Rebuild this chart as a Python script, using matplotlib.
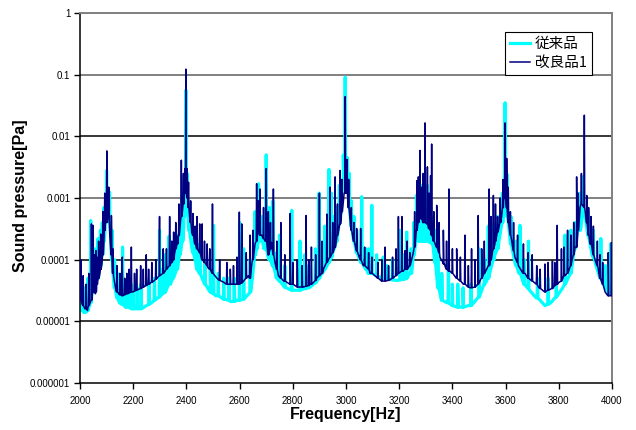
import matplotlib
matplotlib.use('Agg')
import matplotlib.pyplot as plt
import numpy as np

# 従来品 (cyan) - baseline knots
old_f = [2000, 2010, 2022, 2032, 2040, 2050, 2060, 2070, 2080, 2090, 2097, 2108, 2115,
         2122, 2130, 2140, 2155, 2175, 2200, 2225, 2250, 2275, 2300, 2320, 2340, 2355,
         2370, 2380, 2390, 2396, 2404, 2410, 2420, 2435, 2450, 2470, 2490, 2510, 2540,
         2565, 2590, 2615, 2635, 2648, 2658, 2670, 2680, 2690, 2705, 2720, 2735, 2750,
         2775, 2800, 2825, 2850, 2875, 2900, 2920, 2945, 2965, 2980, 2990, 3005, 3012,
         3020, 3030, 3040, 3055, 3070, 3090, 3115, 3140, 3165, 3190, 3220, 3240, 3255,
         3265, 3280, 3300, 3315, 3325, 3335, 3345, 3360, 3380, 3400, 3420, 3440, 3460,
         3480, 3500, 3520, 3540, 3560, 3575, 3588, 3594, 3603, 3608, 3620, 3635, 3650,
         3670, 3690, 3715, 3748, 3770, 3790, 3815, 3835, 3850, 3862, 3875, 3900, 3910,
         3925, 3940, 3955, 3975, 3990, 4000]
old_v = [1.8e-5, 1.5e-5, 1.4e-5, 1.6e-5, 2.5e-5, 3.5e-5, 4.5e-5, 6e-5, 1.0e-4, 2.0e-4,
         5e-4, 5e-4, 2.5e-4, 8e-5, 3.5e-5, 2.4e-5, 1.9e-5, 1.7e-5, 1.6e-5, 1.6e-5,
         1.8e-5, 2.1e-5, 2.5e-5, 3.0e-5, 4.0e-5, 5.5e-5, 9e-5, 1.5e-4, 3.5e-4, 8e-4,
         8e-4, 3.5e-4, 1.6e-4, 9e-5, 6e-5, 4.0e-5, 3.0e-5, 2.6e-5, 2.3e-5, 2.1e-5,
         2.2e-5, 2.3e-5, 2.8e-5, 5e-5, 1.2e-4, 2.0e-4, 2.0e-4, 1.6e-4, 1.2e-4, 9e-5,
         6e-5, 4.5e-5, 3.5e-5, 3.2e-5, 3.2e-5, 3.4e-5, 3.9e-5, 5e-5, 7e-5, 1.1e-4,
         2.0e-4, 5e-4, 2.0e-3, 2.0e-3, 7e-4, 3.5e-4, 2.0e-4, 1.3e-4, 9e-5, 7.5e-5,
         6e-5, 5.5e-5, 5e-5, 4.8e-5, 4.6e-5, 4.8e-5, 6e-5, 1.2e-4, 2.2e-4, 2.0e-4,
         2.0e-4, 1.9e-4, 1.8e-4, 9e-5, 3.5e-5, 2.2e-5, 2.0e-5, 1.8e-5, 1.7e-5, 1.7e-5,
         1.8e-5, 2.0e-5, 2.5e-5, 4e-5, 6e-5, 1.2e-4, 2.0e-4, 4e-4, 1.5e-3, 1.5e-3,
         5e-4, 1.8e-4, 9e-5, 6e-5, 4e-5, 3.2e-5, 2.4e-5, 1.8e-5, 2.0e-5, 2.5e-5,
         3.5e-5, 5e-5, 8e-5, 1.6e-4, 4e-4, 5e-4, 2.5e-4, 1.2e-4, 8e-5, 5e-5, 3.5e-5,
         2.8e-5, 3.0e-5]
# spikes: frequency, foot, tip
old_spk_f = [2005, 2040, 2047, 2068, 2090, 2100, 2111, 2140, 2160, 2185, 2200, 2230,
             2299, 2320, 2335, 2385, 2398, 2410, 2425, 2450, 2502, 2520, 2560, 2600,
             2615, 2658, 2671, 2685, 2700, 2712, 2725, 2750, 2796, 2827, 2845, 2885,
             2899, 2920, 2936, 2945, 2975, 2990, 2997, 3005, 3059, 3075, 3097, 3115,
             3140, 3155, 3203, 3228, 3245, 3265, 3275, 3285, 3298, 3306, 3318, 3345,
             3360, 3385, 3420, 3470, 3500, 3535, 3555, 3598, 3606, 3654, 3686, 3760,
             3823, 3845, 3890, 3958, 3995]
old_spk_lo = [1.5e-5, 2e-5, 3e-5, 5e-5, 2e-4, 5e-4, 4e-4, 2.4e-5, 1.9e-5, 1.7e-5,
              1.6e-5, 1.6e-5, 2.5e-5, 3e-5, 4e-5, 2e-4, 1e-3, 3e-4, 1.3e-4, 6e-5,
              2.8e-5, 2.6e-5, 2.2e-5, 2.2e-5, 2.3e-5, 1.2e-4, 2e-4, 2e-4, 1.5e-4, 1e-4,
              8e-5, 4.5e-5, 3.2e-5, 3.2e-5, 3.4e-5, 4.2e-5, 5e-5, 7e-5, 9e-5, 1.1e-4,
              4e-4, 2e-3, 2e-3, 2e-3, 9e-5, 7e-5, 6e-5, 5.5e-5, 5e-5, 5e-5, 4.7e-5,
              5e-5, 6e-5, 2.2e-4, 2e-4, 2e-4, 2e-4, 2e-4, 1.9e-4, 4e-5, 2.2e-5, 2e-5,
              1.7e-5, 1.8e-5, 2.5e-5, 5e-5, 1e-4, 1.5e-3, 5e-4, 6e-5, 3.4e-5, 1.9e-5,
              4e-5, 6e-5, 5e-4, 5e-5, 2.8e-5]
old_spk_hi = [5e-5, 4.3e-4, 2.5e-4, 2.2e-4, 7e-4, 2.8e-3, 1.25e-3, 6e-5, 1.6e-4, 5e-5,
              3e-5, 4e-5, 3e-4, 1.2e-4, 2.4e-4, 1.2e-3, 0.056, 6e-4, 3e-4, 1.8e-4,
              3.6e-4, 6e-5, 5e-5, 4e-4, 1.5e-4, 6e-4, 1.7e-3, 5e-4, 5e-3, 7e-4, 9e-4,
              2.5e-4, 6.3e-4, 2e-4, 1.2e-4, 1.5e-4, 1.2e-3, 3.5e-4, 2.9e-3, 1.2e-3,
              1.6e-3, 5e-3, 0.091, 4.5e-3, 1.05e-3, 1.5e-4, 7.6e-4, 1.2e-4, 1.1e-4,
              8e-5, 3e-4, 2.8e-4, 1.5e-4, 1.1e-3, 1.5e-3, 1.6e-3, 1.3e-3, 1.6e-3, 7e-4,
              1.6e-4, 6e-5, 9e-5, 4e-5, 4e-5, 1.5e-4, 3.5e-4, 3.8e-4, 0.035, 2.4e-3,
              3.6e-4, 2e-4, 5e-5, 2.5e-4, 3e-4, 2.2e-3, 2.2e-4, 1.8e-4]
# smaller spikes that make the band fuzzy
old_fine_f = [2015, 2030, 2058, 2077, 2084, 2120, 2130, 2150, 2172, 2193, 2215, 2260,
              2280, 2310, 2350, 2365, 2375, 2392, 2403, 2440, 2470, 2490, 2540, 2580,
              2640, 2665, 2693, 2740, 2770, 2860, 2910, 2955, 2965, 3012, 3020, 3030,
              3040, 3085, 3175, 3215, 3255, 3292, 3325, 3335, 3400, 3440, 3520, 3570,
              3588, 3620, 3640, 3670, 3720, 3790, 3860, 3880, 3910, 3930, 3975]
old_fine_lo = [1.4e-5, 1.5e-5, 4e-5, 8e-5, 1.2e-4, 1e-4, 3.5e-5, 2e-5, 1.7e-5, 1.6e-5,
               1.6e-5, 1.9e-5, 2.2e-5, 2.8e-5, 5e-5, 7e-5, 1.2e-4, 5e-4, 8e-4, 7e-5,
               4e-5, 3e-5, 2.3e-5, 2.1e-5, 3e-5, 1.5e-4, 1.5e-4, 5e-5, 3.6e-5, 3.5e-5,
               6e-5, 1.5e-4, 2e-4, 7e-4, 3.5e-4, 2e-4, 1.3e-4, 6e-5, 4.7e-5, 4.8e-5,
               1.2e-4, 2e-4, 1.8e-4, 9e-5, 1.8e-5, 1.7e-5, 4e-5, 1.5e-4, 4e-4, 1.8e-4,
               8e-5, 4e-5, 2.4e-5, 2.5e-5, 1.5e-4, 3e-4, 2.5e-4, 1.1e-4, 3.5e-5]
old_fine_hi = [3.5e-5, 5e-5, 1.5e-4, 3e-4, 4e-4, 3e-4, 1e-4, 5e-5, 4e-5, 4e-5, 3.5e-5,
               4.5e-5, 5e-5, 7e-5, 1.2e-4, 2.5e-4, 4e-4, 2e-3, 2.5e-3, 1.6e-4, 9e-5,
               7e-5, 5e-5, 5e-5, 1e-4, 5e-4, 4e-4, 1.3e-4, 8e-5, 8e-5, 1.8e-4, 5e-4,
               7e-4, 2.5e-3, 9e-4, 5e-4, 3e-4, 1.5e-4, 1e-4, 1.2e-4, 4e-4, 8e-4, 5e-4,
               3e-4, 4e-5, 3.5e-5, 1e-4, 5e-4, 1.2e-3, 5e-4, 2e-4, 1e-4, 5e-5, 6e-5,
               4e-4, 1.2e-3, 6e-4, 3e-4, 8e-5]

# 改良品1 (navy)
new_f = [2000, 2008, 2018, 2028, 2038, 2048, 2058, 2066, 2075, 2083, 2090, 2096, 2106,
         2112, 2118, 2126, 2135, 2148, 2160, 2180, 2200, 2220, 2240, 2260, 2280, 2300,
         2320, 2340, 2355, 2365, 2375, 2385, 2392, 2405, 2412, 2420, 2430, 2445, 2460,
         2480, 2500, 2515, 2540, 2565, 2590, 2615, 2633, 2645, 2658, 2670, 2683, 2696,
         2708, 2720, 2733, 2746, 2765, 2790, 2815, 2840, 2865, 2890, 2915, 2940, 2959,
         2978, 2993, 3003, 3009, 3015, 3028, 3040, 3053, 3065, 3090, 3115, 3140, 3165,
         3190, 3215, 3241, 3253, 3266, 3278, 3291, 3303, 3316, 3328, 3341, 3353, 3366,
         3391, 3416, 3441, 3466, 3485, 3510, 3535, 3560, 3573, 3585, 3593, 3604, 3610,
         3623, 3635, 3648, 3673, 3698, 3723, 3748, 3773, 3798, 3823, 3848, 3861, 3867,
         3880, 3905, 3917, 3936, 3955, 3974, 3986, 4000]
new_v = [2.4e-5, 1.9e-5, 1.6e-5, 1.5e-5, 2.0e-5, 3.0e-5, 2.8e-5, 4.5e-5, 6.0e-5, 9e-5,
         2.0e-4, 5e-4, 6e-4, 2.5e-4, 1.2e-4, 5.5e-5, 3.2e-5, 2.7e-5, 2.6e-5, 2.8e-5,
         3.0e-5, 3.3e-5, 3.6e-5, 4.0e-5, 4.6e-5, 5.5e-5, 6.5e-5, 8.5e-5, 1.2e-4, 1.8e-4,
         3.0e-4, 6.0e-4, 1.2e-3, 1.0e-3, 5e-4, 2.8e-4, 1.9e-4, 1.4e-4, 1.0e-4, 7.5e-5,
         6.0e-5, 5.0e-5, 4.3e-5, 4.0e-5, 4.0e-5, 4.5e-5, 5.5e-5, 8e-5, 1.8e-4, 3.5e-4,
         2.5e-4, 2.0e-4, 1.2e-4, 1.9e-4, 9e-5, 5.5e-5, 4.5e-5, 4.0e-5, 3.6e-5, 3.6e-5,
         4.0e-5, 5.0e-5, 7e-5, 1.1e-4, 1.6e-4, 3.8e-4, 1.2e-3, 1.3e-3, 8e-4, 4.5e-4,
         2.0e-4, 1.4e-4, 1.0e-4, 8e-5, 6e-5, 5.2e-5, 4.5e-5, 4.7e-5, 5.5e-5, 6.5e-5,
         8e-5, 1.3e-4, 3.0e-4, 5e-4, 4e-4, 3.8e-4, 3.0e-4, 2.0e-4, 1.6e-4, 1.1e-4,
         8.5e-5, 6.5e-5, 5.0e-5, 4.0e-5, 3.5e-5, 3.6e-5, 5e-5, 8e-5, 1.8e-4, 3.0e-4,
         5e-4, 1.0e-3, 7e-4, 4.0e-4, 2.0e-4, 1.1e-4, 8e-5, 6e-5, 4.5e-5, 3.6e-5, 3.0e-5,
         3.4e-5, 4.2e-5, 5.5e-5, 9e-5, 1.6e-4, 4e-4, 7e-4, 4e-4, 1.8e-4, 1.0e-4, 5e-5,
         3.0e-5, 2.6e-5, 3e-5]
new_spk_f = [2003, 2012, 2043, 2049, 2060, 2070, 2078, 2101, 2118, 2139, 2159, 2176,
             2193, 2213, 2228, 2249, 2270, 2299, 2313, 2337, 2352, 2366, 2381, 2389,
             2398, 2403, 2425, 2440, 2450, 2459, 2478, 2498, 2552, 2577, 2599, 2608,
             2639, 2664, 2677, 2700, 2708, 2727, 2755, 2790, 2817, 2850, 2870, 2886,
             2900, 2928, 2940, 2959, 2978, 2997, 3004, 3040, 3055, 3097, 3120, 3147,
             3175, 3197, 3210, 3222, 3240, 3266, 3272, 3278, 3297, 3306, 3318, 3322,
             3341, 3366, 3387, 3416, 3447, 3472, 3497, 3520, 3538, 3554, 3570, 3598,
             3604, 3610, 3667, 3700, 3717, 3748, 3776, 3794, 3810, 3833, 3867, 3873,
             3896, 3905, 3921, 3955, 3986, 3998]
new_spk_lo = [2.2e-5, 1.8e-5, 2.2e-5, 3e-5, 3e-5, 5e-5, 7e-5, 4e-4, 1.2e-4, 3e-5,
              2.6e-5, 2.8e-5, 3e-5, 3.2e-5, 3.4e-5, 3.8e-5, 4.3e-5, 5.5e-5, 6e-5,
              8e-5, 1e-4, 1.8e-4, 5e-4, 8e-4, 1.2e-3, 1e-3, 2.5e-4, 1.5e-4, 1.3e-4,
              1.0e-4, 8e-5, 6e-5, 4e-5, 4e-5, 4e-5, 4.2e-5, 5e-5, 2e-4, 2.5e-4, 2e-4,
              1.2e-4, 1.2e-4, 5e-5, 4e-5, 3.6e-5, 3.7e-5, 4e-5, 4.6e-5, 5.5e-5, 9e-5,
              1.1e-4, 1.6e-4, 3.8e-4, 1.2e-3, 1.2e-3, 1.4e-4, 1e-4, 6e-5, 5e-5, 4.5e-5,
              5e-5, 6e-5, 6.5e-5, 7e-5, 8e-5, 3e-4, 4e-4, 5e-4, 4e-4, 3.8e-4, 3e-4,
              2.5e-4, 1.6e-4, 9e-5, 6.5e-5, 5e-5, 4e-5, 3.5e-5, 4e-5, 6e-5, 8e-5,
              1.5e-4, 2.8e-4, 1e-3, 7e-4, 4e-4, 6e-5, 4.5e-5, 4e-5, 3e-5, 3.4e-5, 4e-5,
              4.5e-5, 6e-5, 1.6e-4, 3e-4, 7e-4, 4e-4, 1.8e-4, 5e-5, 2.6e-5, 2.6e-5]
new_spk_hi = [1.0e-4, 5.5e-5, 3.8e-4, 3.6e-4, 1.4e-4, 2.0e-4, 2.6e-4, 5.8e-3, 5.2e-4,
              8e-5, 1.1e-4, 6e-5, 1.6e-4, 7e-5, 8e-5, 1.2e-4, 9e-5, 5.0e-4, 1.5e-4,
              5.0e-4, 2.8e-4, 2.4e-4, 4.1e-3, 2.5e-3, 0.123, 3.0e-3, 5.6e-4, 5e-4,
              3.8e-4, 3.8e-4, 1.8e-4, 8.0e-4, 9e-5, 8e-5, 5.9e-4, 3.8e-4, 2.5e-4,
              1.7e-3, 1.4e-3, 3.0e-3, 6e-4, 1.4e-3, 4e-4, 5.6e-4, 1.0e-4, 5.2e-4,
              1.6e-4, 1.2e-4, 1.2e-3, 5.5e-4, 1.5e-3, 2.2e-3, 2.8e-3, 0.044, 4.2e-3,
              3.2e-4, 3.2e-4, 1.1e-4, 9e-5, 1.6e-4, 1.1e-4, 5.0e-4, 5.0e-4, 1.4e-4,
              1.3e-4, 1.9e-3, 2.2e-3, 5.9e-3, 0.0165, 3.2e-3, 2.3e-3, 7.5e-3, 7.6e-4,
              3e-4, 1.4e-3, 1.5e-4, 2.5e-4, 1.5e-4, 5.2e-4, 2e-4, 1.4e-3, 1.1e-3, 5e-4,
              0.0165, 4.4e-3, 1.5e-3, 1.8e-4, 1.2e-4, 8e-5, 8.5e-5, 9.5e-5, 3.6e-4,
              1.5e-4, 3.0e-4, 2.2e-3, 1.2e-3, 0.022, 1.1e-3, 5e-4, 1.2e-4, 1.3e-4, 1.9e-4]
new_fine_f = [2023, 2033, 2054, 2064, 2086, 2093, 2108, 2124, 2150, 2168, 2185, 2205,
              2238, 2258, 2285, 2325, 2345, 2360, 2372, 2394, 2408, 2416, 2433, 2468,
              2488, 2525, 2565, 2590, 2625, 2650, 2670, 2690, 2716, 2740, 2770, 2800,
              2835, 2860, 2910, 2950, 2968, 2985, 3010, 3020, 3030, 3070, 3085, 3135,
              3160, 3188, 3230, 3258, 3285, 3290, 3312, 3330, 3350, 3378, 3400, 3430,
              3460, 3485, 3510, 3545, 3562, 3580, 3590, 3618, 3630, 3645, 3685, 3730,
              3760, 3785, 3820, 3845, 3856, 3885, 3912, 3930, 3945, 3965]
new_fine_lo = [1.6e-5, 1.8e-5, 3e-5, 4e-5, 1.2e-4, 3e-4, 5e-4, 6e-5, 2.7e-5, 2.7e-5,
               2.9e-5, 3.1e-5, 3.6e-5, 4e-5, 4.8e-5, 7e-5, 9e-5, 1.5e-4, 2.5e-4,
               1.2e-3, 7e-4, 4e-4, 1.8e-4, 9e-5, 7e-5, 4.6e-5, 4e-5, 4e-5, 5e-5, 1e-4,
               3e-4, 2.2e-4, 1.5e-4, 7e-5, 4.5e-5, 4e-5, 3.6e-5, 3.8e-5, 6e-5, 1.3e-4,
               2.5e-4, 6e-4, 7e-4, 3e-4, 2e-4, 8e-5, 7e-5, 4.5e-5, 4.6e-5, 5.5e-5, 7e-5,
               1.6e-4, 4.5e-4, 4e-4, 3.2e-4, 2e-4, 1.3e-4, 7e-5, 6e-5, 4.5e-5, 3.6e-5,
               3.6e-5, 5e-5, 1e-4, 2e-4, 4e-4, 7e-4, 2.5e-4, 1.4e-4, 9e-5, 5e-5, 3.4e-5,
               3.2e-5, 3.8e-5, 5.5e-5, 8e-5, 1.2e-4, 8e-4, 2.5e-4, 1.2e-4, 8e-5, 4e-5]
new_fine_hi = [4e-5, 6e-5, 1.2e-4, 1.1e-4, 6e-4, 1.2e-3, 1.5e-3, 1.5e-4, 6e-5, 5e-5,
               7e-5, 6e-5, 7e-5, 7e-5, 1.0e-4, 1.5e-4, 2e-4, 4e-4, 8e-4, 3e-3, 1.8e-3,
               9e-4, 3.5e-4, 2e-4, 1.5e-4, 1.0e-4, 7e-5, 1.1e-4, 1.3e-4, 3e-4, 9e-4,
               7e-4, 4e-4, 2e-4, 1.2e-4, 9e-5, 8e-5, 1.0e-4, 2e-4, 4e-4, 8e-4, 2e-3,
               2e-3, 7e-4, 4e-4, 1.6e-4, 1.3e-4, 1e-4, 8e-5, 1.5e-4, 2e-4, 6e-4, 1.5e-3,
               2.5e-3, 1.2e-3, 6e-4, 4e-4, 2e-4, 1.5e-4, 1.1e-4, 8e-5, 1e-4, 1.5e-4,
               5e-4, 8e-4, 1e-3, 2e-3, 6e-4, 4e-4, 2.5e-4, 1.3e-4, 7e-5, 9e-5, 9e-5,
               1.6e-4, 2.5e-4, 4e-4, 2.5e-3, 7e-4, 3.5e-4, 2e-4, 9e-5]

labels = ['従来品', '改良品1']
yticks = [1e-6, 1e-5, 1e-4, 1e-3, 1e-2, 1e-1, 1]
ytick_labels = ['0.000001', '0.00001', '0.0001', '0.001', '0.01', '0.1', '1']
xticks = list(range(2000, 4001, 200))


def trace(bf, bv, sf, slo, shi):
    pts = list(zip(bf, bv))
    for f, lo, hi in zip(sf, slo, shi):
        pts += [(f - 1.5, lo), (f, hi), (f + 1.5, lo)]
    pts.sort()
    return [p[0] for p in pts], [p[1] for p in pts]


plt.rcParams['font.family'] = ['Liberation Sans', 'Noto Sans CJK JP', 'DejaVu Sans']

fig = plt.figure(figsize=(6.36, 4.30), dpi=100)
ax = fig.add_axes([80 / 636, 47 / 430, 532 / 636, 370 / 430])
ax.set_yscale('log')

# horizontal grid lines (Excel style: some gray, some black)
grid_col = {1: '#808080', 1e-1: '#808080', 1e-2: 'black', 1e-3: '#808080',
            1e-4: 'black', 1e-5: 'black'}
for lv, c in grid_col.items():
    ax.axhline(lv, color=c, lw=1.4 if c != 'black' else 1.1, zorder=1)

x1, y1 = trace(old_f, old_v, old_spk_f + old_fine_f, old_spk_lo + old_fine_lo,
               old_spk_hi + old_fine_hi)
x2, y2 = trace(new_f, new_v, new_spk_f + new_fine_f, new_spk_lo + new_fine_lo,
               new_spk_hi + new_fine_hi)
ax.plot(x1, y1, color='#00FFFF', lw=2.3, label=labels[0], zorder=2)
ax.plot(x2, y2, color='#000080', lw=1.1, label=labels[1], zorder=3)

ax.set_xlim(2000, 4000)
ax.set_ylim(1e-6, 1)
ax.set_yticks(yticks)
ax.set_yticklabels(ytick_labels)
ax.yaxis.set_minor_locator(matplotlib.ticker.NullLocator())
ax.set_xticks(xticks)
ax.tick_params(axis='both', labelsize=7, direction='out', length=4, width=1, pad=3)
ax.tick_params(axis='x', pad=5)

for s in ['top', 'right']:
    ax.spines[s].set_color('#808080')
    ax.spines[s].set_linewidth(1.4)
for s in ['left', 'bottom']:
    ax.spines[s].set_color('black')
    ax.spines[s].set_linewidth(1.1)

fig.text(21 / 636, 1 - 196 / 430, 'Sound pressure[Pa]', rotation=90, ha='center',
         va='center', fontsize=11.5, fontweight='bold')
fig.text(346 / 636, 1 - 415 / 430, 'Frequency[Hz]', ha='center', va='center',
         fontsize=11.5, fontweight='bold')

leg = ax.legend(loc='upper right', bbox_to_anchor=(0.962, 0.949), borderaxespad=0,
                fancybox=False, framealpha=1, edgecolor='black', handlelength=1.4,
                handletextpad=0.3, borderpad=0.35, labelspacing=0.35,
                prop={'family': ['Noto Sans CJK JP', 'DejaVu Sans'], 'size': 10.5})
leg.get_frame().set_linewidth(0.8)

fig.savefig('out.png', dpi=100)
